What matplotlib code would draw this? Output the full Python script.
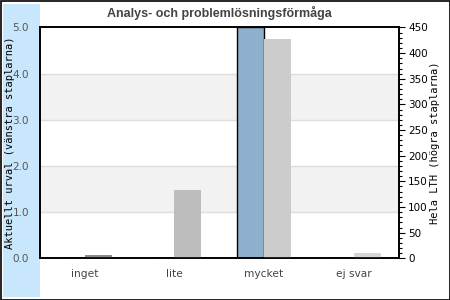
import numpy as np
import matplotlib
matplotlib.use("Agg")
import matplotlib.pyplot as plt
from matplotlib.patches import Rectangle
from matplotlib.ticker import MultipleLocator

# Data
categories = ["inget", "lite", "mycket", "ej svar"]
urval = [0.0, 0.0, 5.0, 0.0]          # left axis (Aktuellt urval)
hela_lth = [6, 133, 427, 10]          # right axis (Hela LTH)
gray_colors = ["#8c8c8c", "#bdbdbd", "#cccccc", "#d6d6d6"]

W, H = 450, 300
fig = plt.figure(figsize=(W / 100, H / 100), dpi=100)

# light blue band on the left and outer frame
fig.patches.append(Rectangle((3 / W, 3 / H), 37 / W, 293 / H, transform=fig.transFigure,
                             facecolor="#c8e6fc", edgecolor="none", zorder=-1))
fig.patches.append(Rectangle((0.5 / W, 0.5 / H), 449 / W, 299 / H, transform=fig.transFigure,
                             facecolor="none", edgecolor="black", linewidth=1.2, zorder=10))

left, right, top, bottom = 40, 398.5, 27.5, 258.3
ax = fig.add_axes([left / W, (H - bottom) / H, (right - left) / W, (bottom - top) / H])
ax.set_facecolor("white")
ax2 = ax.twinx()

x = np.arange(len(categories))
bw = 0.30

# background bands and grid
for lo in [1, 3]:
    ax.axhspan(lo, lo + 1, color="#f2f2f2", zorder=0, lw=0)
for g in [1, 2, 3, 4]:
    ax.axhline(g, color="#dddddd", lw=1, zorder=0.5)

ax.bar(x - bw / 2, urval, width=bw, color="#8fb0cc", edgecolor="black", linewidth=1, zorder=2)
ax2.bar(x + bw / 2, hela_lth, width=bw, color=gray_colors, edgecolor="none", zorder=2)

ax.set_xlim(-0.5, 3.5)
ax.set_ylim(0, 5)
ax2.set_ylim(0, 450)

ax.set_yticks([0, 1, 2, 3, 4, 5])
ax.set_yticklabels(["0.0", "1.0", "2.0", "3.0", "4.0", "5.0"])
ax.tick_params(axis="y", length=0, pad=8, labelsize=7.5, labelcolor="#555555")
ax.set_xticks(x)
ax.set_xticklabels(categories)
ax.tick_params(axis="x", length=0, pad=8, labelsize=7.7, labelcolor="#444444")

ax2.yaxis.set_major_locator(MultipleLocator(50))
ax2.yaxis.set_minor_locator(MultipleLocator(10))
ax2.tick_params(axis="y", which="major", length=4, width=0.8, pad=3, labelsize=7.5, labelcolor="black")
ax2.tick_params(axis="y", which="minor", length=2.5, width=0.8)

for a in (ax, ax2):
    for s in a.spines.values():
        s.set_color("black")
        s.set_linewidth(1.2)

ax.set_ylabel("Aktuellt urval (vänstra staplarna)", family="DejaVu Sans Mono", fontsize=7.5)
ax.yaxis.set_label_coords(-25 / (right - left), 0.5)
ax2.set_ylabel("Hela LTH (högra staplarna)", family="DejaVu Sans Mono", fontsize=7.5)
ax2.yaxis.set_label_coords(1 + 32 / (right - left), 0.5)

fig.text((left + right) / 2 / W, 1 - 12.5 / H, "Analys- och problemlösningsförmåga",
         ha="center", va="center", fontsize=9, fontweight="bold", color="#444444",
         family="Liberation Sans")

fig.savefig("out.png", dpi=100)
